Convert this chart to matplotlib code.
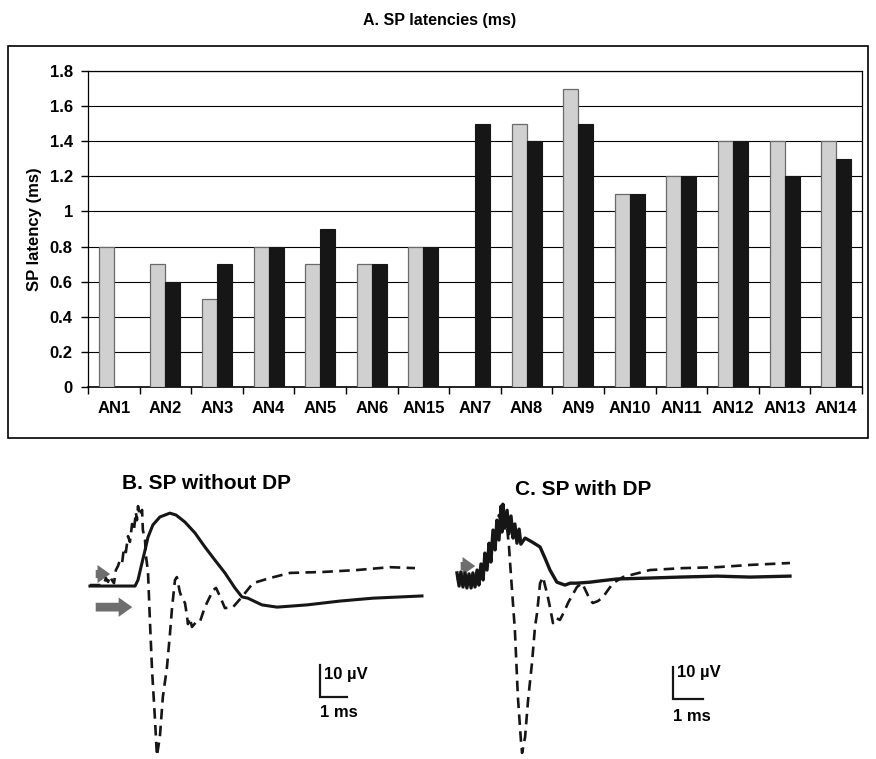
import matplotlib
matplotlib.use("Agg")
import matplotlib.pyplot as plt
import numpy as np
from matplotlib.patches import Rectangle, FancyArrowPatch

plt.rcParams['font.family'] = ['Liberation Sans', 'DejaVu Sans']
plt.rcParams['font.weight'] = 'bold'

# ---- panel A data ----
categories = ['AN1', 'AN2', 'AN3', 'AN4', 'AN5', 'AN6', 'AN15', 'AN7',
              'AN8', 'AN9', 'AN10', 'AN11', 'AN12', 'AN13', 'AN14']
latency_grey = [0.8, 0.7, 0.5, 0.8, 0.7, 0.7, 0.8, None,
                1.5, 1.7, 1.1, 1.2, 1.4, 1.4, 1.4]
latency_black = [None, 0.6, 0.7, 0.8, 0.9, 0.7, 0.8, 1.5,
                 1.4, 1.5, 1.1, 1.2, 1.4, 1.2, 1.3]
yticks = [0, 0.2, 0.4, 0.6, 0.8, 1, 1.2, 1.4, 1.6, 1.8]

# ---- panel B traces (ms, uV) ----
b_solid_t = [0.00, 1.67, 1.78, 1.89, 2.04, 2.15, 2.33, 2.59, 2.96, 3.19, 3.52,
             3.89, 4.26, 4.63, 5.00, 5.37, 5.63, 5.85, 6.37, 6.93, 8.04, 9.26,
             10.48, 12.30]
b_solid_v = [0.0, 0.0, 1.9, 5.9, 11.2, 15.3, 19.1, 21.6, 22.8, 22.2, 20.0,
             16.6, 12.2, 8.1, 4.1, -0.6, -3.4, -3.8, -5.9, -6.6, -5.9, -4.7,
             -3.8, -3.1]
b_dash_t = [0.00, 0.37, 0.52, 0.59, 0.67, 0.74, 0.81, 0.89, 0.96, 1.04, 1.11,
            1.19, 1.26, 1.33, 1.41, 1.48, 1.56, 1.63, 1.70, 1.74, 1.78, 1.85,
            1.93, 1.96, 2.04, 2.07, 2.15, 2.22, 2.30, 2.41, 2.48, 2.59, 2.70,
            2.85, 2.96, 3.04, 3.15, 3.22, 3.33, 3.41, 3.52, 3.59, 3.63, 3.70,
            3.78, 3.93, 4.07, 4.22, 4.33, 4.44, 4.56, 4.67, 4.81, 5.00, 5.30,
            5.63, 6.04, 6.67, 7.41, 8.63, 9.89, 11.11, 12.04]
b_dash_v = [0.3, 0.3, 0.6, 2.5, 1.3, 3.1, 1.9, 0.9, 5.0, 6.3, 8.1,
            7.2, 11.9, 10.6, 15.6, 13.8, 19.4, 17.5, 23.1, 20.6, 25.0, 21.9,
            23.8, 17.5, 14.4, 9.7, 4.4, -10.6, -26.3, -41.9, -53.1, -47.2, -34.7,
            -25.6, -15.3, -6.9, 1.9, 2.8, -1.9, -3.8, -5.3, -9.1, -11.9, -10.0,
            -12.8, -11.3, -11.3, -7.5, -5.3, -3.4, -1.3, -0.6, -3.1, -6.9, -6.6,
            -3.4, 0.9, 2.5, 4.1, 4.4, 5.0, 5.9, 5.6]

# ---- panel C traces (ms, uV) ----
c_solid_t = [0.00, 0.07, 0.13, 0.20, 0.27, 0.33, 0.40, 0.47, 0.53, 0.60, 0.67,
             0.73, 0.80, 0.87, 0.93, 1.00, 1.07, 1.13, 1.20, 1.27, 1.33, 1.40,
             1.47, 1.50, 1.53, 1.60, 1.67, 1.73, 1.80, 1.87, 1.93, 2.00, 2.07,
             2.13, 2.27, 2.50, 2.77, 2.93, 3.10, 3.33, 3.60, 3.77, 4.00, 4.43,
             4.77, 5.33, 6.43, 7.43, 8.67, 9.77, 11.10]
c_solid_v = [1.6, -2.5, 1.9, -2.8, 1.6, -3.1, 1.3, -3.1, 1.6, -2.8, 2.5,
             -2.2, 4.4, -0.6, 7.8, 2.5, 10.9, 5.0, 15.0, 8.8, 18.1, 11.9,
             22.5, 14.4, 23.1, 15.6, 21.2, 13.8, 19.4, 12.5, 16.9, 10.9, 15.3,
             10.6, 12.5, 11.3, 9.7, 6.3, 2.5, -1.3, -2.2, -1.6, -1.6, -1.3,
             -0.9, -0.3, 0.0, 0.3, 0.6, 0.3, 0.6]
c_dash_t = [0.00, 0.17, 0.33, 0.50, 0.67, 0.80, 0.93, 1.07, 1.20, 1.30, 1.40,
            1.47, 1.53, 1.60, 1.67, 1.73, 1.77, 1.93, 2.03, 2.13, 2.17, 2.27,
            2.37, 2.50, 2.60, 2.67, 2.77, 2.87, 2.93, 3.00, 3.10, 3.20, 3.30,
            3.43, 3.57, 3.70, 3.83, 4.00, 4.17, 4.33, 4.43, 4.53, 4.70, 4.87,
            5.03, 5.20, 5.53, 6.43, 7.53, 8.67, 9.77, 11.10]
c_dash_v = [0.0, -1.3, 0.6, -1.6, 1.9, 0.9, 5.6, 8.1, 11.9, 15.0, 19.7,
            17.5, 22.8, 19.7, 15.6, 10.3, 4.7, -16.3, -37.2, -50.6, -54.7, -49.7,
            -38.1, -26.6, -15.3, -10.9, -1.6, 0.3, -2.2, -4.7, -9.1, -14.1, -12.5,
            -13.1, -10.6, -7.8, -5.6, -2.8, -1.6, -4.7, -6.9, -7.8, -7.2, -5.9,
            -3.8, -1.6, 0.3, 2.5, 3.1, 3.4, 4.1, 4.7]

GREY = '#d0d0d0'
BLACK = '#161616'
ARROW = '#6e6e6e'
DASH = (0, (4.0, 2.4))

fig = plt.figure(figsize=(8.76, 7.59), dpi=100)

# outer frame around panel A
fig.add_artist(Rectangle((0.0091, 0.4229), 0.9817, 0.5165, transform=fig.transFigure,
                         fill=False, edgecolor='black', linewidth=1.2))
fig.text(0.502, 0.9736, 'A. SP latencies (ms)', ha='center', va='center',
         fontsize=11.5, fontweight='bold')

ax = fig.add_axes([0.1005, 0.4901, 0.8836, 0.4163])
x = np.arange(len(categories))
w = 0.29
gx = [i for i, v in enumerate(latency_grey) if v is not None]
bx = [i for i, v in enumerate(latency_black) if v is not None]
ax.bar(np.array(gx) - w / 2, [latency_grey[i] for i in gx], width=w,
       color=GREY, edgecolor='#6a6a6a', linewidth=0.9, zorder=3)
ax.bar(np.array(bx) + w / 2, [latency_black[i] for i in bx], width=w,
       color=BLACK, edgecolor=BLACK, linewidth=0.8, zorder=3)

ax.set_xlim(-0.5, len(categories) - 0.5)
ax.set_ylim(0, 1.8)
ax.set_yticks(yticks)
ax.set_yticklabels([f'{v:g}' for v in yticks], fontsize=12, fontweight='bold')
ax.set_xticks(x)
ax.set_xticklabels(categories, fontsize=12, fontweight='bold')
ax.set_xticks(np.arange(len(categories) + 1) - 0.5, minor=True)
ax.tick_params(axis='x', which='major', length=0, pad=10)
ax.tick_params(axis='x', which='minor', length=5, width=1, direction='out')
ax.tick_params(axis='y', length=5, width=1, direction='out', pad=6)
ax.yaxis.grid(True, color='black', linewidth=0.8, zorder=0)
ax.set_axisbelow(True)
for s in ax.spines.values():
    s.set_linewidth(0.9)
ax.spines['bottom'].set_linewidth(1.2)
ax.set_ylabel('SP latency (ms)', fontsize=12, fontweight='bold')
ax.yaxis.set_label_coords(-0.0594, 0.5)


def trace_panel(rect, xlim, ylim, solid, dashed, title, title_xy, sb, arrows, solid_lw):
    a = fig.add_axes(rect)
    a.set_xlim(*xlim)
    a.set_ylim(*ylim)
    a.axis('off')
    a.plot(solid[0], solid[1], color=BLACK, linewidth=solid_lw, solid_joinstyle='round')
    a.plot(dashed[0], dashed[1], color=BLACK, linewidth=1.9, linestyle=DASH)
    fig.text(title_xy[0], title_xy[1], title, ha='center', va='center',
             fontsize=15, fontweight='bold')
    # scale bar: 1 ms, 10 uV
    t0, v0, tlab_v, slab_v = sb
    a.plot([t0, t0, t0 + 1], [v0 + 10, v0, v0], color=BLACK, linewidth=1.6,
           solid_joinstyle='miter')
    a.text(t0 + 0.15, tlab_v, '10 µV', ha='left', va='center', fontsize=12,
           fontweight='bold')
    a.text(t0, slab_v, '1 ms', ha='left', va='center', fontsize=12,
           fontweight='bold')
    for (ta, tb, va, sc) in arrows:
        a.add_patch(FancyArrowPatch((ta, va), (tb, va),
                                    arrowstyle='simple,head_length=0.7,head_width=1.0,tail_width=0.45',
                                    mutation_scale=sc, color=ARROW, linewidth=0))
    return a


trace_panel([0.0970, 0.0, 0.3995, 0.3412], (-0.185, 12.78), (-54.1, 26.9),
            (b_solid_t, b_solid_v), (b_dash_t, b_dash_v),
            'B. SP without DP', (0.236, 0.3636),
            (8.52, -34.7, -27.8, -39.4),
            [(0.11, 0.85, 3.75, 13), (0.11, 1.67, -6.6, 14)], 2.2)

trace_panel([0.5137, 0.0, 0.3995, 0.3412], (-0.233, 11.433), (-56.6, 24.4),
            (c_solid_t, c_solid_v), (c_dash_t, c_dash_v),
            'C. SP with DP', (0.666, 0.3557),
            (7.2, -37.8, -29.7, -43.4),
            [(0.03, 0.70, 3.75, 13)], 2.4)

fig.savefig('out.png', dpi=100)
